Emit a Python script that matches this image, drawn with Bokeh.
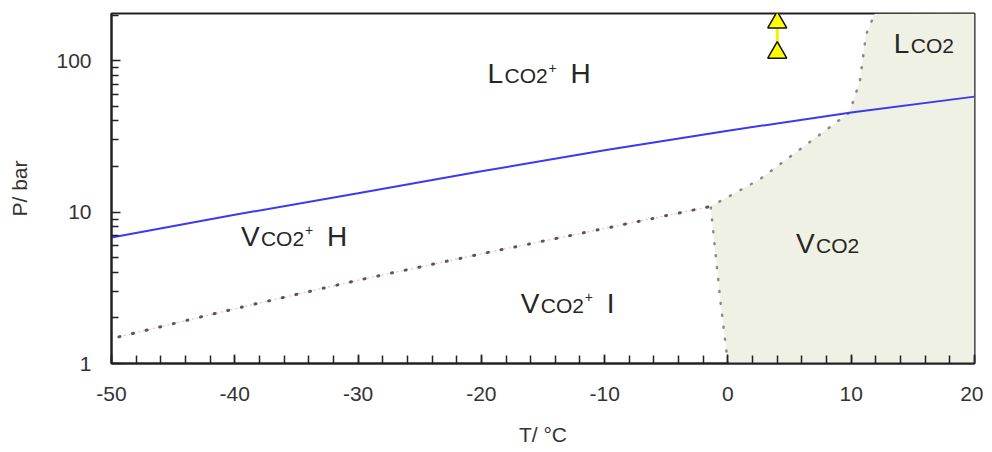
from bokeh.plotting import figure
from bokeh.models import Range1d, FixedTicker, CustomJSTickFormatter
from bokeh.core.properties import value
from bokeh.embed import file_html
from bokeh.resources import INLINE

# ---- data ----
# hydrate stability line (L/V CO2 + H)
hv_T = [-50, -40, -30, -20, -10, 0, 10, 20]
hv_P = [6.8, 9.6, 13.3, 18.6, 25.6, 34.5, 45.5, 57.9]
# ice / hydrate boundary (V CO2 + I)
iv_T = [-49.4, -40, -30, -20, -10, -1.4]
iv_P = [1.5, 2.3, 3.55, 5.3, 7.8, 10.9]
# pure CO2 phase boundary (V CO2 / L CO2 region)
co2_T = [0, -0.6, -0.9, -1.4, 2.55, 9.85, 10.7, 11.2, 11.9]
co2_P = [1, 2.53, 4.39, 10.9, 16.4, 45.4, 73, 148.5, 204]
# experimental points
exp_T = [4, 4]
exp_P = [113, 179]

x_ticks = [-50, -40, -30, -20, -10, 0, 10, 20]
x_minor = list(range(-50, 21, 2))
y_ticks = [1, 10, 100]
y_minor = [2, 3, 4, 5, 6, 7, 8, 9, 20, 30, 40, 50, 60, 70, 80, 90, 200]

# region labels: main letter, subscript, trailing phase, T, P
labels = [
    ("L", "CO2", "H", -19.5, 82),
    ("V", "CO2", "H", -39.5, 6.9),
    ("V", "CO2", "I", -16.8, 2.5),
    ("V", "CO2", "", 5.53, 6.2),
    ("L", "CO2", "", 13.46, 130),
]

X_MIN, X_MAX = -50, 20
Y_MIN, Y_MAX = 1, 205

p = figure(frame_width=863, frame_height=350,
           x_range=Range1d(X_MIN, X_MAX), y_range=Range1d(Y_MIN, Y_MAX),
           y_axis_type="log", output_backend="svg", toolbar_location=None,
           min_border_left=111, min_border_right=9, min_border_top=13,
           min_border_bottom=80)
p.background_fill_color = "white"
p.border_fill_color = "white"
p.xgrid.visible = False
p.ygrid.visible = False
p.outline_line_color = "#222222"
p.outline_line_width = 2
p.outline_line_alpha = 1

# shaded pure-CO2 region
p.patch(co2_T + [X_MAX, X_MAX], co2_P + [Y_MAX, Y_MIN],
        fill_color="#eef1e3", line_color=None)

# dotted boundaries
p.line(co2_T, co2_P, line_color="#8a8a8a", line_width=2.5,
       line_dash="1 11", line_cap="round")
p.line(iv_T, iv_P, line_color="#ecc0c0", line_width=1.2, line_dash="2 3")
p.line(iv_T, iv_P, line_color="#5f5555", line_width=3,
       line_dash="1 13", line_cap="round")

# hydrate line
p.line(hv_T, hv_P, line_color="#3a3af2", line_width=2)

# experimental points
p.line(exp_T, exp_P, line_color="#f2f200", line_width=3)
p.scatter(exp_T, exp_P, marker="triangle", size=19, fill_color="#ffff00",
          line_color="#111111", line_width=1.5)

# region labels
font = value("Liberation Sans")
tcol = "#262626"
main_w = {"L": 17, "V": 20}
for m, sub, tail, T, P in labels:
    p.text(x=[T], y=[P], text=[m], text_font=font, text_font_size="28px",
           text_color=tcol, text_baseline="alphabetic", text_align="left")
    xs = main_w[m]
    p.text(x=[T], y=[P], text=[sub], x_offset=xs, y_offset=2, text_font=font,
           text_font_size="21px", text_color=tcol,
           text_baseline="alphabetic", text_align="left")
    if tail:
        p.text(x=[T], y=[P], text=["+"], x_offset=xs + 44, y_offset=-6,
               text_font=font, text_font_size="14px", text_color=tcol,
               text_baseline="alphabetic", text_align="left")
        p.text(x=[T], y=[P], text=[tail], x_offset=xs + 66, text_font=font,
               text_font_size="28px", text_color=tcol,
               text_baseline="alphabetic", text_align="left")

# axes
p.xaxis.ticker = FixedTicker(ticks=x_ticks, minor_ticks=x_minor)
p.yaxis.ticker = FixedTicker(ticks=y_ticks, minor_ticks=y_minor)
fmt = "return tick.toFixed(0);"
p.xaxis.formatter = CustomJSTickFormatter(code=fmt)
p.yaxis.formatter = CustomJSTickFormatter(code=fmt)
p.xaxis.axis_label = "T/ \u00b0C"
p.yaxis.axis_label = "P/ bar"
for ax in (p.xaxis, p.yaxis):
    ax.axis_line_color = "#222222"
    ax.axis_line_width = 2
    ax.major_tick_line_color = "#222222"
    ax.minor_tick_line_color = "#222222"
    ax.major_tick_line_width = 1.5
    ax.minor_tick_line_width = 1.5
    ax.major_tick_out = 0
    ax.minor_tick_out = 0
    ax.major_tick_in = 9
    ax.major_label_text_font = "Liberation Sans"
    ax.major_label_text_font_size = "21px"
    ax.major_label_text_color = "#333333"
    ax.axis_label_text_font = "Liberation Sans"
    ax.axis_label_text_font_size = "21px"
    ax.axis_label_text_font_style = "normal"
    ax.axis_label_text_color = "#333333"
p.xaxis.minor_tick_in = 8
p.yaxis.minor_tick_in = 7
p.xaxis.major_label_standoff = 23
p.xaxis.axis_label_standoff = 19
p.yaxis.major_label_standoff = 20
p.yaxis.axis_label_standoff = 22

open("out.html", "w").write(file_html(p, INLINE))
